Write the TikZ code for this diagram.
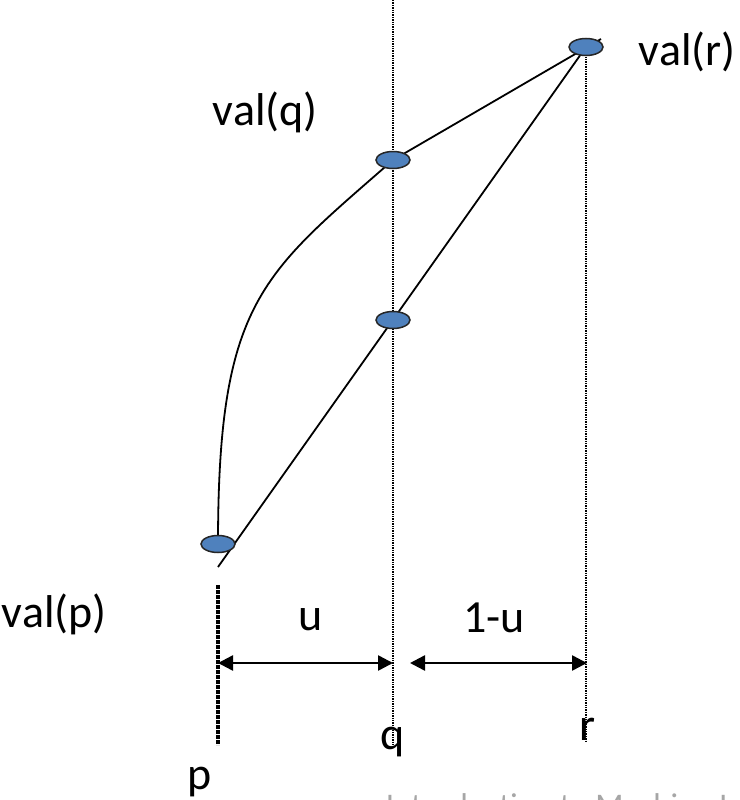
\documentclass[tikz,border=0pt]{standalone}
\usepackage{fontspec}
\setmainfont{Carlito}
\usetikzlibrary{shapes,arrows,arrows.meta,positioning,calc}
\definecolor{ptblue}{HTML}{4F81BD}
\definecolor{footgray}{HTML}{A6A6A6}
\tikzstyle{valpt} = [draw=black!85, line width=1.5pt, fill=ptblue, ellipse, minimum width=34pt, minimum height=17pt, inner sep=0pt]
\tikzstyle{lbl} = [font=\fontsize{46}{50}\selectfont, inner sep=0pt, anchor=base]
\tikzstyle{guide} = [densely dotted, line width=1.4pt]
\tikzstyle{dimline} = [{Triangle[length=15pt,width=15pt]}-{Triangle[length=15pt,width=15pt]}, line width=2.5pt]

\begin{document}
\begin{tikzpicture}[x=1pt, y=-1pt, line width=1.8pt]
  \useasboundingbox (0,0) rectangle (739,800);
  % points on the curve
  \coordinate (vp) at (218,544);
  \coordinate (vq) at (393,160);
  \coordinate (vm) at (393,320);
  \coordinate (vr) at (586,47);
  \coordinate (pend) at (218,567);
  \coordinate (rend) at (601,39);

  % vertical guides
  \coordinate (qtop) at (393,0);
  \coordinate (qbot) at (393,745);
  \coordinate (rbot) at (586,742);
  \coordinate (ptop) at (218,585);
  \coordinate (pbot) at (218,745);
  \draw [guide] (qtop) -- (qbot);
  \draw [guide] (vr) -- (rbot);
  \draw [densely dotted, line width=4pt] (ptop) -- (pbot);

  \draw (vp) .. controls (218,300) and (263,274) .. (vq) -- (rend);
  \draw (pend) -- (vr);

  \node [valpt] (dp) at (vp) {};
  \node [valpt] (dq) at (vq) {};
  \node [valpt] (dm) at (vm) {};
  \node [valpt] (dr) at (vr) {};

  % intervals
  \coordinate (ul) at (218,663);
  \coordinate (ur) at (393,663);
  \coordinate (wl) at (410,663);
  \coordinate (wr) at (587,663);
  \draw [dimline] (ul) -- (ur);
  \draw [dimline] (wl) -- (wr);

  \node [lbl] (lu) at (311,630) {u};
  \node [lbl] (lw) at (494,632) {1-u};
  \node [lbl] (lp) at (200,789) {p};
  \node [lbl] (lq) at (393,749) {q};
  \node [lbl] (lr) at (588,740) {r};
  \node [lbl, anchor=base west] (lvp) at (1,627) {val(p)};
  \node [lbl, anchor=base west] (lvq) at (212,125) {val(q)};
  \node [lbl, anchor=base west] (lvr) at (638,66) {val(r)};

  \node [font=\fontsize{33}{36}\selectfont, text=footgray, anchor=base west, inner sep=0pt] (foot) at (385,816) {Introduction to Machine Learning};
\end{tikzpicture}
\end{document}
